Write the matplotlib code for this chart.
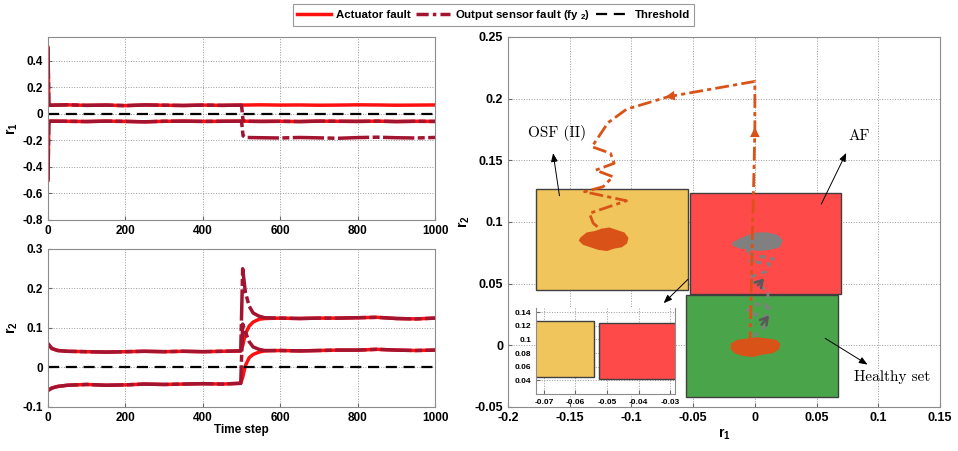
import numpy as np
import matplotlib.pyplot as plt
from matplotlib.patches import Rectangle
from matplotlib.lines import Line2D

plt.rcParams['font.family'] = ['Liberation Sans', 'DejaVu Sans']
plt.rcParams['font.weight'] = 'bold'
plt.rcParams['axes.labelweight'] = 'bold'
plt.rcParams['mathtext.fontset'] = 'custom'
plt.rcParams['mathtext.rm'] = 'Liberation Sans:bold'
plt.rcParams['mathtext.bf'] = 'Liberation Sans:bold'
plt.rcParams['mathtext.it'] = 'Liberation Sans:bold'

# ---- residual r1 (time response) ----
t1 = [0, 2, 5, 50, 100, 150, 200, 250, 300, 350, 400, 450, 500,
      550, 600, 650, 700, 750, 800, 850, 900, 950, 1000]
af_r1_hi = [0.50, 0.08, 0.065, 0.068, 0.064, 0.066, 0.062, 0.067, 0.065, 0.063, 0.066, 0.064, 0.066,
            0.068, 0.066, 0.067, 0.065, 0.066, 0.068, 0.067, 0.065, 0.066, 0.067]
af_r1_lo = [-0.50, -0.07, -0.055, -0.056, -0.058, -0.055, -0.057, -0.060, -0.056, -0.055, -0.057, -0.056, -0.055,
            -0.057, -0.056, -0.058, -0.055, -0.056, -0.057, -0.055, -0.058, -0.056, -0.057]
t1_osf = [0, 2, 5, 50, 100, 150, 200, 250, 300, 350, 400, 450, 500, 504, 510,
          550, 600, 650, 700, 750, 800, 850, 900, 950, 1000]
osf_r1_hi = [0.50, 0.08, 0.065, 0.068, 0.064, 0.066, 0.062, 0.067, 0.065, 0.063, 0.066, 0.064, 0.066, -0.05, -0.056,
             -0.057, -0.056, -0.058, -0.055, -0.056, -0.057, -0.055, -0.058, -0.056, -0.057]
osf_r1_lo = [-0.50, -0.07, -0.055, -0.056, -0.058, -0.055, -0.057, -0.060, -0.056, -0.055, -0.057, -0.056, -0.055, -0.165, -0.178,
             -0.180, -0.182, -0.178, -0.181, -0.184, -0.179, -0.176, -0.180, -0.182, -0.178]

# ---- residual r2 (time response) ----
t2 = [0, 10, 25, 50, 100, 150, 200, 250, 300, 350, 400, 450, 498, 503, 510, 520, 530, 545, 560,
      600, 650, 700, 750, 800, 850, 900, 950, 1000]
af_r2_hi = [0.060, 0.048, 0.043, 0.041, 0.040, 0.039, 0.040, 0.041, 0.040, 0.041, 0.040, 0.041, 0.042,
            0.055, 0.085, 0.105, 0.115, 0.122, 0.124, 0.125, 0.124, 0.125, 0.125, 0.126, 0.127, 0.124, 0.123, 0.125]
af_r2_lo = [-0.058, -0.052, -0.048, -0.045, -0.043, -0.045, -0.044, -0.042, -0.043, -0.042, -0.041, -0.042, -0.040,
            -0.025, 0.005, 0.025, 0.033, 0.039, 0.042, 0.043, 0.042, 0.043, 0.044, 0.044, 0.046, 0.044, 0.043, 0.044]
osf_r2_hi = [0.060, 0.048, 0.043, 0.041, 0.040, 0.039, 0.040, 0.041, 0.040, 0.041, 0.040, 0.041, 0.042,
             0.250, 0.190, 0.155, 0.138, 0.130, 0.126, 0.125, 0.124, 0.125, 0.125, 0.126, 0.127, 0.124, 0.123, 0.125]
osf_r2_lo = [-0.058, -0.052, -0.048, -0.045, -0.043, -0.045, -0.044, -0.042, -0.043, -0.042, -0.041, -0.042, -0.040,
             0.110, 0.090, 0.065, 0.052, 0.046, 0.043, 0.043, 0.042, 0.043, 0.044, 0.044, 0.046, 0.044, 0.043, 0.044]

# ---- residual plane (r1, r2) ----
set_x0 = [-0.177, -0.0525, -0.056]
set_y0 = [0.045, 0.042, -0.042]
set_w = [0.123, 0.1223, 0.1234]
set_h = [0.082, 0.0815, 0.083]
set_col = ['#EFC55C', '#FF4A4A', '#4AA54A']

traj_x = [-0.004, -0.003, -0.002, -0.001, 0.000, 0.000, -0.070, -0.104, -0.119, -0.132, -0.117, -0.114,
          -0.129, -0.115, -0.123, -0.138, -0.104, -0.134, -0.131, -0.120]
traj_y = [0.000, 0.040, 0.090, 0.130, 0.175, 0.214, 0.2016, 0.1914, 0.1805, 0.161, 0.1557, 0.1476,
          0.142, 0.1367, 0.1286, 0.1245, 0.1172, 0.107, 0.099, 0.090]

gray_x = [-0.001, 0.010, 0.012, 0.000, -0.006, 0.008, 0.011, 0.003, -0.005, 0.010, 0.012, -0.004,
          0.006, 0.015, -0.008, 0.000]
gray_y = [0.007, 0.017, 0.030, 0.034, 0.028, 0.022, 0.044, 0.048, 0.055, 0.060, 0.066, 0.068,
          0.072, 0.070, 0.075, 0.080]

osf_cloud_x = [-0.141, -0.136, -0.130, -0.124, -0.118, -0.112, -0.106, -0.103, -0.104, -0.108,
               -0.114, -0.120, -0.127, -0.133, -0.139, -0.142]
osf_cloud_y = [0.087, 0.091, 0.092, 0.094, 0.095, 0.093, 0.091, 0.087, 0.083, 0.080,
               0.079, 0.077, 0.078, 0.080, 0.082, 0.085]
h_cloud_x = [-0.019, -0.014, -0.006, 0.002, 0.010, 0.017, 0.020, 0.019, 0.014, 0.006, -0.002,
             -0.010, -0.016, -0.019]
h_cloud_y = [0.001, 0.004, 0.005, 0.006, 0.005, 0.004, 0.001, -0.003, -0.006, -0.007, -0.009,
             -0.008, -0.006, -0.003]
g_cloud_x = [-0.018, -0.012, -0.005, 0.002, 0.010, 0.018, 0.022, 0.020, 0.012, 0.004, -0.004,
             -0.012, -0.017]
g_cloud_y = [0.083, 0.086, 0.089, 0.091, 0.091, 0.089, 0.085, 0.080, 0.078, 0.077, 0.078,
             0.079, 0.081]

AF_C = '#FF1010'
OSF_C = '#A2142F'
ORANGE = '#D95319'
OSF_LS = (0, (9, 1, 2, 1))

fig = plt.figure(figsize=(9.58, 4.51), dpi=100)
ax1 = fig.add_axes([0.0501, 0.5122, 0.404, 0.406])
ax2 = fig.add_axes([0.0501, 0.0976, 0.404, 0.3503])
ax3 = fig.add_axes([0.5303, 0.0976, 0.4509, 0.8204])


def style(ax, fs=8.5):
    ax.grid(True, linestyle=':', color='0.6', linewidth=0.7)
    ax.set_axisbelow(True)
    for s in ax.spines.values():
        s.set_color('0.55')
    ax.tick_params(direction='in', length=3, labelsize=fs, color='0.4')


# top left
ax1.plot(t1, af_r1_hi, color=AF_C, lw=2.5)
ax1.plot(t1, af_r1_lo, color=AF_C, lw=2.5)
ax1.plot(t1_osf, osf_r1_hi, color=OSF_C, lw=2.5, ls=OSF_LS)
ax1.plot(t1_osf, osf_r1_lo, color=OSF_C, lw=2.5, ls=OSF_LS)
ax1.axhline(0, color='k', lw=1.6, ls=(0, (5, 3)))
ax1.set_xlim(0, 1000)
ax1.set_ylim(-0.8, 0.58)
ax1.set_yticks([-0.8, -0.6, -0.4, -0.2, 0, 0.2, 0.4])
ax1.set_yticklabels(['-0.8', '-0.6', '-0.4', '-0.2', '0', '0.2', '0.4'])
ax1.set_ylabel(r'$\mathbf{r_1}$', fontsize=10, labelpad=2)
style(ax1)

# bottom left
ax2.plot(t2, af_r2_hi, color=AF_C, lw=2.5)
ax2.plot(t2, af_r2_lo, color=AF_C, lw=2.5)
ax2.plot(t2, osf_r2_hi, color=OSF_C, lw=2.5, ls=OSF_LS)
ax2.plot(t2, osf_r2_lo, color=OSF_C, lw=2.5, ls=OSF_LS)
ax2.axhline(0, color='k', lw=1.6, ls=(0, (5, 3)))
ax2.set_xlim(0, 1000)
ax2.set_ylim(-0.1, 0.3)
ax2.set_yticks([-0.1, 0, 0.1, 0.2, 0.3])
ax2.set_yticklabels(['-0.1', '0', '0.1', '0.2', '0.3'])
ax2.set_xlabel('Time step', fontsize=8.5, labelpad=0)
ax2.set_ylabel(r'$\mathbf{r_2}$', fontsize=10, labelpad=2)
style(ax2)

# right: residual plane
for x0, y0, w, h, c in zip(set_x0, set_y0, set_w, set_h, set_col):
    ax3.add_patch(Rectangle((x0, y0), w, h, facecolor=c, edgecolor='0.25', lw=1, zorder=1))
ax3.fill(osf_cloud_x, osf_cloud_y, color=ORANGE, zorder=2)
ax3.fill(h_cloud_x, h_cloud_y, color=ORANGE, zorder=2)
ax3.fill(g_cloud_x, g_cloud_y, color='#808080', zorder=2)
ax3.plot(gray_x, gray_y, color='#808080', lw=2, ls=(0, (2, 2)), zorder=3)
ax3.plot(traj_x, traj_y, color=ORANGE, lw=2, ls=(0, (5, 1.5, 1.5, 1.5)), zorder=3)
arr = dict(arrowstyle='-|>,head_length=0.7,head_width=0.35', lw=0)
ax3.annotate('', xy=(traj_x[4], traj_y[4] + 0.004), xytext=(traj_x[4], traj_y[4] - 0.005),
             arrowprops=dict(arr, color=ORANGE), zorder=4)
ax3.annotate('', xy=(traj_x[6] - 0.005, traj_y[6] - 0.0008), xytext=(traj_x[6] + 0.006, traj_y[6] + 0.001),
             arrowprops=dict(arr, color=ORANGE), zorder=4)
garr = dict(arrowstyle='->,head_length=0.5,head_width=0.3', lw=1.8, color='0.35')
ax3.annotate('', xy=(0.009, 0.056), xytext=(0.001, 0.047), arrowprops=garr, zorder=4)
ax3.annotate('', xy=(0.013, 0.026), xytext=(0.004, 0.015), arrowprops=garr, zorder=4)

ann = dict(arrowstyle='-|>,head_length=0.5,head_width=0.2', color='k', lw=0.7)
ax3.annotate('OSF (II)', xy=(-0.1638, 0.158), xytext=(-0.184, 0.172), fontsize=11,
             fontfamily='cmr10', fontweight='normal', va='center', ha='left')
ax3.annotate('', xy=(-0.1638, 0.158), xytext=(-0.158, 0.119), arrowprops=ann)
ax3.annotate('AF', xy=(0.075, 0.158), xytext=(0.076, 0.170), fontsize=11,
             fontfamily='cmr10', fontweight='normal', va='center', ha='left')
ax3.annotate('', xy=(0.075, 0.158), xytext=(0.0528, 0.1124), arrowprops=ann)
ax3.text(0.080, -0.0255, 'Healthy set', fontsize=11, fontfamily='cmr10', fontweight='normal',
         va='center', ha='left')
ax3.annotate('', xy=(0.0932, -0.0168), xytext=(0.055, 0.0069), arrowprops=ann)
ax3.annotate('', xy=(-0.0755, 0.0326), xytext=(-0.0526, 0.0551), arrowprops=ann)

ax3.set_xlim(-0.2, 0.15)
ax3.set_ylim(-0.05, 0.25)
ax3.set_xticks([-0.2, -0.15, -0.1, -0.05, 0, 0.05, 0.1, 0.15])
ax3.set_xticklabels(['-0.2', '-0.15', '-0.1', '-0.05', '0', '0.05', '0.1', '0.15'])
ax3.set_yticks([-0.05, 0, 0.05, 0.1, 0.15, 0.2, 0.25])
ax3.set_yticklabels(['-0.05', '0', '0.05', '0.1', '0.15', '0.2', '0.25'])
ax3.set_xlabel(r'$\mathbf{r_1}$', fontsize=10, labelpad=2)
ax3.set_ylabel(r'$\mathbf{r_2}$', fontsize=10, labelpad=2)
style(ax3, 9)

# inset zoom on the OSF / AF gap (only those two sets)
ax4 = fig.add_axes([0.5595, 0.1264, 0.1451, 0.1907])
for x0, y0, w, h, c in zip(set_x0[:2], set_y0[:2], set_w[:2], set_h[:2], set_col[:2]):
    ax4.add_patch(Rectangle((x0, y0), w, h, facecolor=c, edgecolor='0.25', lw=1, zorder=1))
ax4.set_xlim(-0.0725, -0.0285)
ax4.set_ylim(0.02, 0.146)
ax4.set_xticks([-0.07, -0.06, -0.05, -0.04, -0.03])
ax4.set_xticklabels(['-0.07', '-0.06', '-0.05', '-0.04', '-0.03'])
ax4.set_yticks([0.04, 0.06, 0.08, 0.1, 0.12, 0.14])
ax4.set_yticklabels(['0.04', '0.06', '0.08', '0.1', '0.12', '0.14'])
style(ax4, 6)
ax4.spines['top'].set_visible(False)

h_af = Line2D([], [], color=AF_C, lw=2.5)
h_osf = Line2D([], [], color=OSF_C, lw=2.5, ls=(0, (3.5, 1.2, 1, 1.2)))
h_th = Line2D([], [], color='k', lw=1.6, ls=(0, (5, 3)))
leg = fig.legend([h_af, h_osf, h_th],
                 ['Actuator fault', r'Output sensor fault (fy $_\mathbf{2}$)', 'Threshold'],
                 loc='center', bbox_to_anchor=(0.515, 0.967), ncol=3, fontsize=8.2,
                 frameon=True, fancybox=False, edgecolor='0.5', borderpad=0.35,
                 handlelength=3.0, handletextpad=0.4, columnspacing=0.5)
leg.get_frame().set_linewidth(0.8)

fig.savefig('out.png', dpi=100)
